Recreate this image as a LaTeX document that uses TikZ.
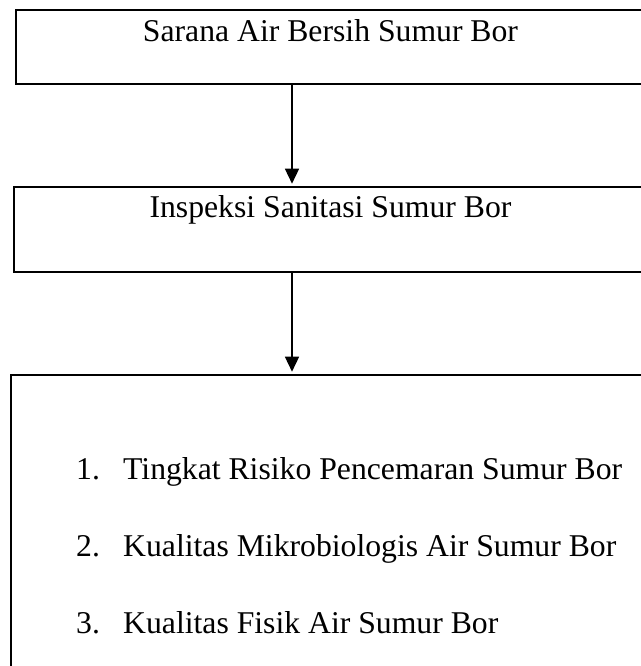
\documentclass[tikz,border=0pt]{standalone}
\usepackage{fontspec}
\setmainfont{Liberation Serif}
\usetikzlibrary{arrows.meta}
\begin{document}
\begin{tikzpicture}[x=1pt,y=-1pt,
  boxstyle/.style={draw=black, line width=2.6pt, rectangle, inner sep=0pt},
  txt/.style={font=\fontsize{31.7}{38}\selectfont, inner sep=0pt, anchor=base},
  itemtxt/.style={font=\fontsize{31.7}{38}\selectfont, inner sep=0pt, anchor=base west},
  arr/.style={line width=1.5pt, -{Triangle[length=15pt,width=14pt]}, shorten >=2pt}]
\useasboundingbox (0,0) rectangle (640,666);
% boxes
\node[boxstyle, minimum width=629pt, minimum height=74pt] (b1) at (330.5,47) {};
\node[boxstyle, minimum width=633pt, minimum height=85pt] (b2) at (330.5,229.5) {};
\node[boxstyle, minimum width=639pt, minimum height=330pt] (b3) at (330.5,540) {};
% texts
\node[txt] (t1) at (330.5,42) {Sarana Air Bersih Sumur Bor};
\node[txt] (t2) at (330.5,217) {Inspeksi Sanitasi Sumur Bor};
\node[itemtxt] (n1) at (76,479) {1.};
\node[itemtxt] (i1) at (123,479) {Tingkat Risiko Pencemaran Sumur Bor};
\node[itemtxt] (n2) at (76,556) {2.};
\node[itemtxt] (i2) at (123,556) {Kualitas Mikrobiologis Air Sumur Bor};
\node[itemtxt] (n3) at (76,633) {3.};
\node[itemtxt] (i3) at (123,633) {Kualitas Fisik Air Sumur Bor};
% arrows
\coordinate (ax) at (292,0);
\draw[arr] (b1.south -| ax) -- (b2.north -| ax);
\draw[arr] (b2.south -| ax) -- (b3.north -| ax);
\end{tikzpicture}
\end{document}
